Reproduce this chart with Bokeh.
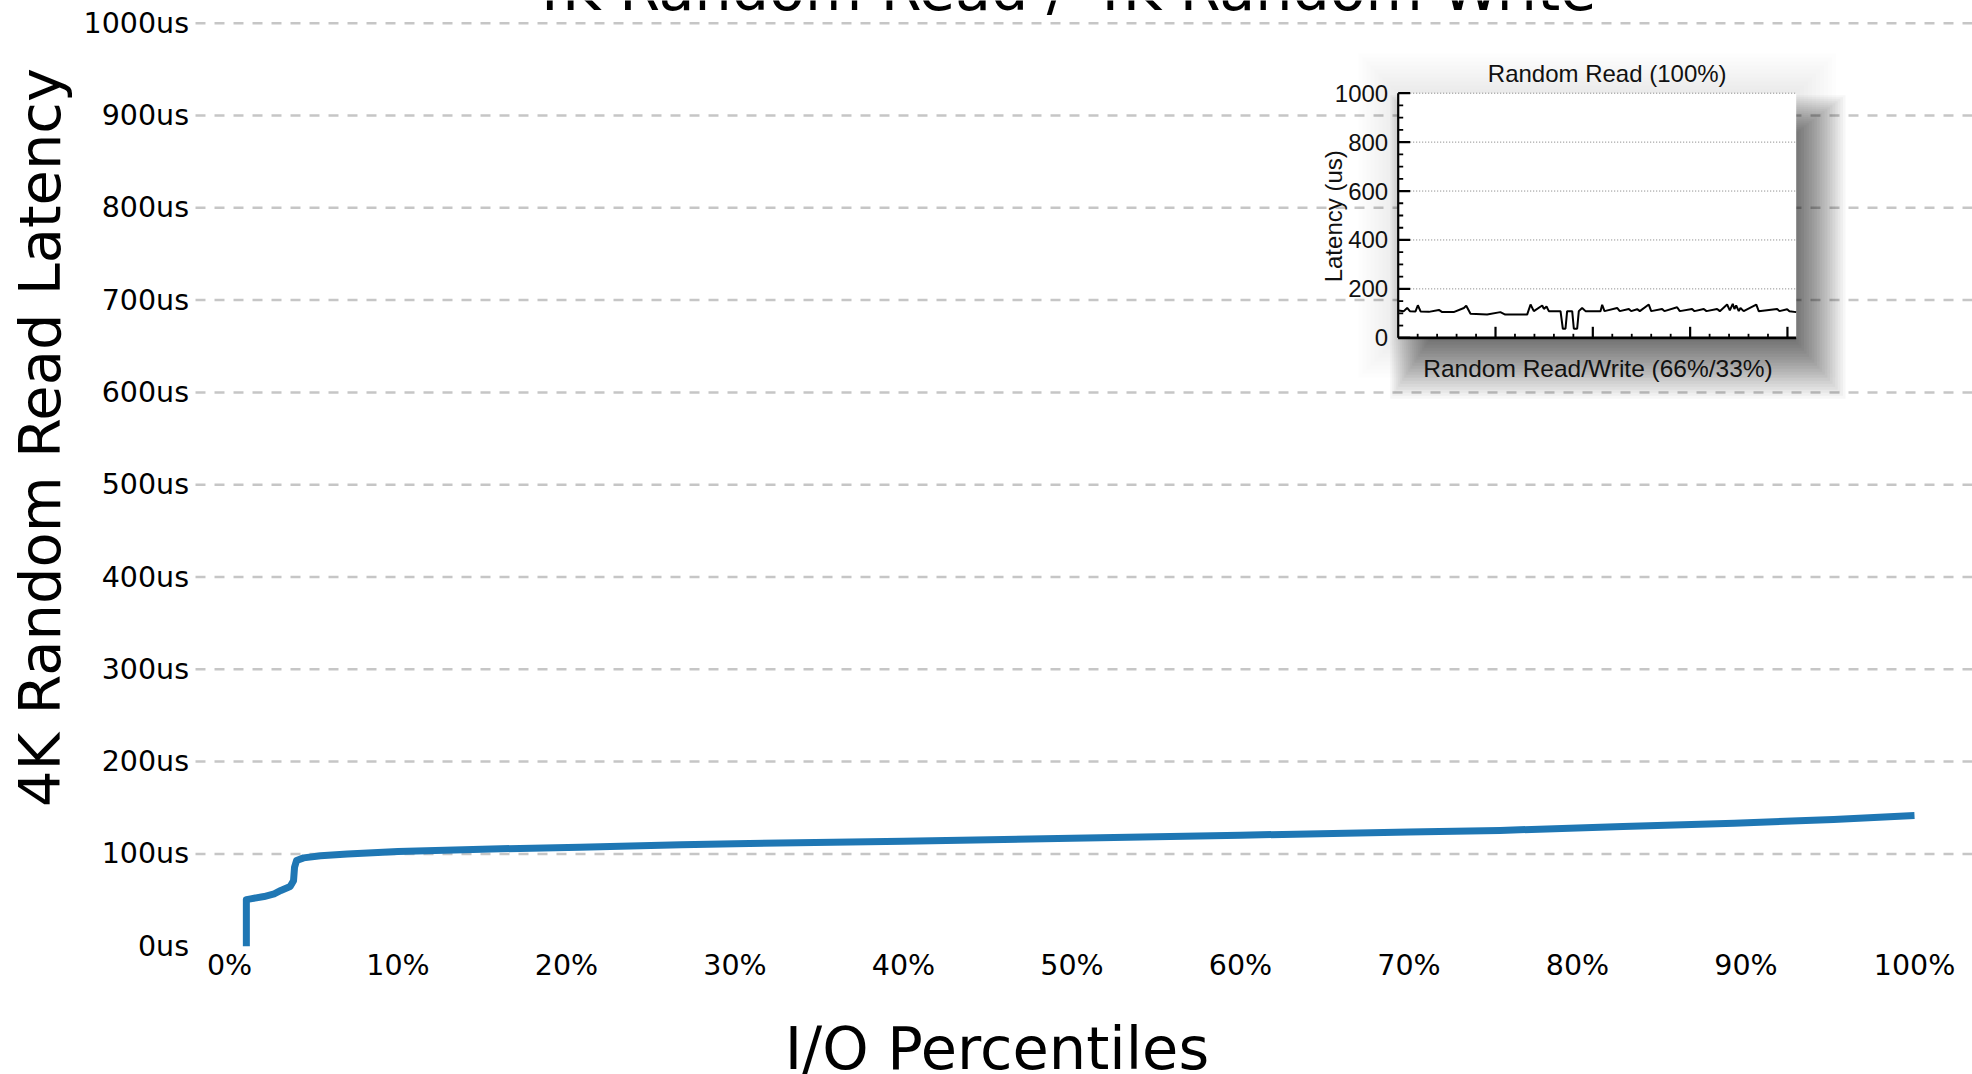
import math
from bokeh.plotting import figure
from bokeh.models import Range1d
from bokeh.core.properties import value
from bokeh.embed import file_html
from bokeh.resources import INLINE

# ---------------- data ----------------
# main chart: latency (us) versus I/O percentile (%)
pct = [1.0, 1.0, 1.25, 2.05, 2.65, 3.05, 3.6, 3.8, 3.86, 3.98, 4.4, 5.4, 7.0,
       10.0, 15.0, 20.8, 26.8, 30.0, 40.0, 50.0, 60.0, 70.0, 75.4, 82.7,
       89.3, 95.2, 100.0]
lat = [0.0, 50.5, 51.3, 53.8, 56.7, 60.4, 64.7, 71.0, 85.6, 92.8, 95.7, 97.9,
       100.0, 102.6, 105.1, 107.3, 109.8, 111.0, 113.8, 117.0, 120.3, 123.6,
       125.4, 129.7, 133.3, 137.3, 141.6]
y_ticks = [0, 100, 200, 300, 400, 500, 600, 700, 800, 900, 1000]
y_tick_labels = ["0us", "100us", "200us", "300us", "400us", "500us",
                 "600us", "700us", "800us", "900us", "1000us"]
y_grid_ticks = [100, 200, 300, 400, 500, 600, 700, 800, 900, 1000]
x_ticks = [0, 10, 20, 30, 40, 50, 60, 70, 80, 90, 100]
x_tick_labels = ["0%", "10%", "20%", "30%", "40%", "50%", "60%", "70%",
                 "80%", "90%", "100%"]

title_text = "4K Random Read / 4K Random Write"
x_label = "I/O Percentiles"
y_label = "4K Random Read Latency"

# inset chart: latency trace (sample index, us)
inset_x = [0, 5.8, 9.2, 12, 17.8, 20.2, 23, 31.5, 41.8, 45.2, 57, 67.5, 69.9,
           74.3, 91.4, 105, 110, 132.5, 136, 139.4, 148, 149.7, 152.4, 154.8,
           166.8, 169.2, 171.9, 173.6, 178.8, 180.5, 183.9, 185.6, 189, 192.5,
           207.9, 209.6, 212, 225, 227.7, 237, 239.4, 245.5, 248.3, 257.5, 260,
           271.2, 273.6, 286.6, 289.4, 302, 304.5, 314, 316.8, 327.7, 330.5,
           338, 340.8, 343.8, 345.5, 347.3, 350, 351.7, 355, 368, 370.5, 389.4,
           391.8, 399.7, 402, 409]
inset_y = [112, 109, 122, 109, 108, 133, 108, 106, 114, 105, 105, 122, 131,
           98, 95, 105, 95, 95, 136, 109, 132, 118, 128, 109,
           109, 37, 37, 109, 109, 37, 37, 109, 122, 109,
           109, 135, 109, 122, 109, 118, 109, 117, 109, 136, 109,
           118, 109, 125, 109, 118, 109, 118, 109, 118, 109,
           136, 112, 139, 118, 132, 109, 122, 109, 136, 109, 118,
           109, 117, 109, 105]
inset_y_ticks = [0, 200, 400, 600, 800, 1000]
inset_y_minor = [50, 100, 150, 250, 300, 350, 450, 500, 550, 650, 700, 750,
                 850, 900, 950]
inset_x_major = [100, 200, 300, 400]
inset_x_minor = [20, 40, 60, 80, 120, 140, 160, 180, 220, 240, 260, 280,
                 320, 340, 360, 380]
inset_x_max = 409
inset_y_max = 1000
inset_title = "Random Read (100%)"
inset_xlabel = "Random Read/Write (66%/33%)"
inset_ylabel = "Latency (us)"

# ---------------- geometry (canvas pixels) ----------------
W, H = 1972, 1074
FL = 195                                      # left end of the grid lines
PX0, PX100 = 229.0, 1914.0                    # pixel of 0% and 100%
PY0, PY1000 = 945.7, 22.7                     # pixel of 0us and 1000us
kx_main = (PX100 - PX0) / 100.0
ky_main = (PY0 - PY1000) / 1000.0

def mx(px):
    return (px - PX0) / kx_main

def my(py):
    return (PY0 - py) / ky_main

IL, IR, IT, IB = 1397.7, 1795.7, 92.7, 337.3  # inset frame
kx_in = (IR - IL) / inset_x_max
ky_in = (IB - IT) / inset_y_max

def ix(px):
    return (px - IL) / kx_in

def iy(py):
    return (IB - py) / ky_in

p = figure(width=W, height=H,
           x_range=Range1d(mx(0), mx(W)), y_range=Range1d(my(H), my(0)),
           x_axis_type=None, y_axis_type=None,
           output_backend="svg", toolbar_location=None,
           min_border_left=0, min_border_right=0,
           min_border_top=0, min_border_bottom=0)
p.extra_x_ranges = {"ix": Range1d(ix(0), ix(W))}
p.extra_y_ranges = {"iy": Range1d(iy(H), iy(0))}
p.outline_line_color = None
p.background_fill_color = "white"
p.border_fill_color = "white"
p.grid.visible = False

MAIN_FONT = value("DejaVu Sans")

# horizontal dashed grid lines
n = len(y_grid_ticks)
p.segment(x0=[mx(FL)] * n, x1=[mx(W)] * n, y0=y_grid_ticks, y1=y_grid_ticks,
          line_color="#c6c6c6", line_width=2.5, line_dash="10 9")

# y tick labels
p.text(x=[mx(188.5)] * len(y_ticks), y=y_ticks, text=y_tick_labels,
       text_align="right", text_baseline="middle", text_font=MAIN_FONT,
       text_font_size="28.5px", text_color="#000000")
# x tick labels
p.text(x=x_ticks, y=[my(964.6)] * len(x_ticks), text=x_tick_labels,
       text_align="center", text_baseline="middle", text_font=MAIN_FONT,
       text_font_size="28.5px", text_color="#000000")

# main curve
p.line(pct, lat, line_width=7, line_color="#1f77b4", line_join="round")

# titles (the chart title is cut by the top edge, as in the original)
p.text(x=[mx(1060)], y=[my(-10.6)], text=[title_text], text_align="center",
       text_baseline="middle", text_font=MAIN_FONT,
       text_font_size="58.7px", text_color="#000000")
p.text(x=[mx(996.5)], y=[my(1047.8)], text=[x_label], text_align="center",
       text_baseline="middle", text_font=MAIN_FONT,
       text_font_size="59px", text_color="#000000")
p.text(x=[mx(40.3)], y=[my(437)], text=[y_label], text_align="center",
       text_baseline="middle", angle=math.pi / 2, text_font=MAIN_FONT,
       text_font_size="57.5px", text_color="#000000")

# ---------------- inset ----------------
R = dict(x_range_name="ix", y_range_name="iy")
# faint halo all around
for k in range(1, 11):
    e = 4 * k
    p.quad(left=[ix(IL - e)], right=[ix(IR + e)], top=[iy(IT - e)],
           bottom=[iy(IB + e)], fill_color="black", fill_alpha=0.008,
           line_color=None, **R)
# soft drop shadow to the right and below
for k in range(0, 20):
    p.quad(left=[ix(IL + 30 - 2 * k)], right=[ix(IR + 2.6 * k)],
           top=[iy(IT + 40 - 2 * k)], bottom=[iy(IB + 4 + 3 * k)],
           fill_color="black", fill_alpha=0.03, line_color=None, **R)
p.quad(left=[0], right=[inset_x_max], top=[inset_y_max], bottom=[0],
       fill_color="white", line_color=None, **R)
p.segment(x0=[0] * 5, x1=[inset_x_max] * 5, y0=inset_y_ticks[1:],
          y1=inset_y_ticks[1:], line_color="#7a7a7a", line_width=1,
          line_dash="1 2", **R)
p.line(inset_x, inset_y, line_color="black", line_width=2, **R)
# spines
p.segment(x0=[0], y0=[0], x1=[0], y1=[inset_y_max], line_color="black",
          line_width=2.2, **R)
p.segment(x0=[0], y0=[0], x1=[inset_x_max], y1=[0], line_color="black",
          line_width=2.8, **R)
# ticks
p.ray(x=[0] * len(inset_y_ticks), y=inset_y_ticks, length=12,
      length_units="screen", angle=0, line_color="black", line_width=2.2, **R)
p.ray(x=[0] * len(inset_y_minor), y=inset_y_minor, length=5,
      length_units="screen", angle=0, line_color="black", line_width=1.8, **R)
p.ray(x=inset_x_major, y=[0] * len(inset_x_major), length=11,
      length_units="screen", angle=math.pi / 2, line_color="black",
      line_width=2.2, **R)
p.ray(x=inset_x_minor, y=[0] * len(inset_x_minor), length=4,
      length_units="screen", angle=math.pi / 2, line_color="black",
      line_width=1.8, **R)
# tick labels and texts
INSET_FONT = value("Liberation Sans")
p.text(x=[0] * len(inset_y_ticks), y=inset_y_ticks,
       text=[str(t) for t in inset_y_ticks], x_offset=-10,
       text_align="right", text_baseline="middle",
       text_font=INSET_FONT, text_font_size="24px",
       text_color="#111111", **R)
p.text(x=[ix(1606.7)], y=[iy(73.3)], text=[inset_title], text_align="center",
       text_baseline="middle", text_font=INSET_FONT,
       text_font_size="24px", text_color="#111111", **R)
p.text(x=[ix(1597.5)], y=[iy(368.3)], text=[inset_xlabel],
       text_align="center", text_baseline="middle",
       text_font=INSET_FONT, text_font_size="24.5px",
       text_color="#111111", **R)
p.text(x=[ix(1333)], y=[iy(215.8)], text=[inset_ylabel], angle=math.pi / 2,
       text_align="center", text_baseline="middle",
       text_font=INSET_FONT, text_font_size="24px",
       text_color="#111111", **R)

open("out.html", "w").write(file_html(p, INLINE))
